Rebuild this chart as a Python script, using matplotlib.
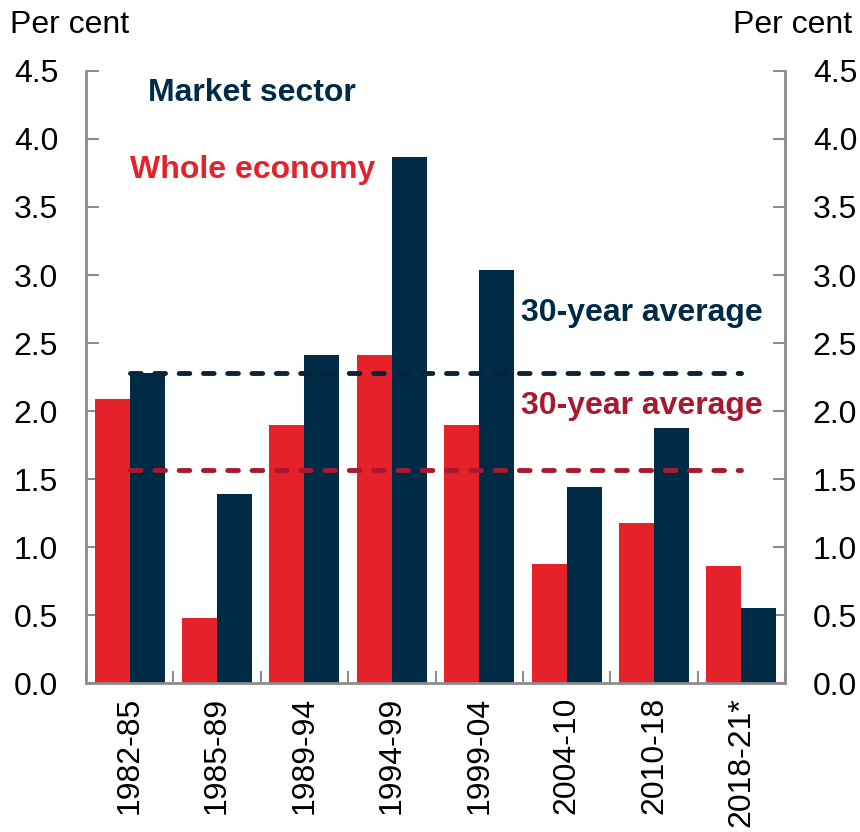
import matplotlib
matplotlib.use("Agg")
import matplotlib.pyplot as plt
import numpy as np

plt.rcParams['font.family'] = ['Liberation Sans', 'DejaVu Sans']

periods = ['1982-85', '1985-89', '1989-94', '1994-99', '1999-04', '2004-10', '2010-18', '2018-21*']
whole_economy = [2.09, 0.48, 1.90, 2.41, 1.90, 0.875, 1.18, 0.86]
market_sector = [2.28, 1.39, 2.41, 3.87, 3.04, 1.44, 1.875, 0.55]
avg_whole = 1.57
avg_market = 2.28

RED = '#E52129'
NAVY = '#002B47'
DASH_RED = '#A6192E'
DASH_NAVY = '#0B2238'
GREY = '#8C8C8C'
FS = 23

fig = plt.figure(figsize=(8.6, 8.32), dpi=100)
ax = fig.add_axes([0.1, 0.179, 0.8128, 0.7357])

x = np.arange(len(periods))
w = 0.4
ax.bar(x - w / 2, whole_economy, w, color=RED, zorder=2)
ax.bar(x + w / 2, market_sector, w, color=NAVY, zorder=2)

ax.plot([0, 7], [avg_market, avg_market], color=DASH_NAVY, lw=3.5,
        dashes=(2.2, 2.8), dash_capstyle='round', zorder=3)
ax.plot([0, 7], [avg_whole, avg_whole], color=DASH_RED, lw=3.5,
        dashes=(2.2, 2.8), dash_capstyle='round', zorder=3)

ax.set_xlim(-0.5, 7.5)
ax.set_ylim(0, 4.5)
ax.set_yticks(np.arange(0, 4.51, 0.5))
ax.set_yticklabels(['%.1f' % v for v in np.arange(0, 4.51, 0.5)])
ax.tick_params(axis='y', which='both', direction='in', length=9, width=1.5,
               color=GREY, labelsize=FS, pad=20, left=True, right=True,
               labelleft=True, labelright=True)

ax.set_xticks(x)
ax.set_xticklabels(periods, rotation=90, fontsize=FS)
ax.tick_params(axis='x', which='major', length=0, pad=10)
ax.set_xticks(np.arange(-0.5, 7.6, 1), minor=True)
ax.tick_params(axis='x', which='minor', direction='in', length=9, width=1.5, color=GREY)

ax.spines['top'].set_visible(False)
for s in ['left', 'right', 'bottom']:
    ax.spines[s].set_color(GREY)
    ax.spines[s].set_linewidth(2)

fig.text(10 / 860, 1 - 25 / 832, 'Per cent', fontsize=FS, va='center', ha='left')
fig.text(852 / 860, 1 - 25 / 832, 'Per cent', fontsize=FS, va='center', ha='right')

ax.text(0.21, 4.34, 'Market sector', color=NAVY, fontsize=FS, fontweight='bold', va='center')
ax.text(0.0, 3.77, 'Whole economy', color=RED, fontsize=FS, fontweight='bold', va='center')
ax.text(7.25, 2.72, '30-year average', color=NAVY, fontsize=FS, fontweight='bold', va='center', ha='right')
ax.text(7.25, 2.04, '30-year average', color=DASH_RED, fontsize=FS, fontweight='bold', va='center', ha='right')

fig.savefig('out.png', dpi=100)
